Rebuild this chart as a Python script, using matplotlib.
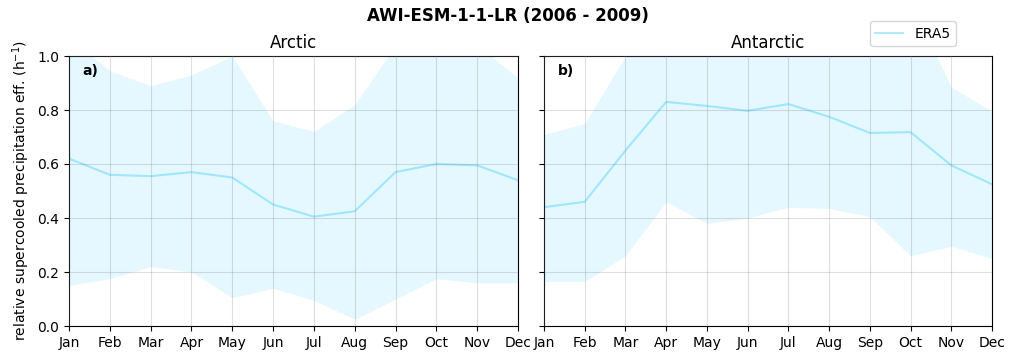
import matplotlib
matplotlib.use("Agg")
import matplotlib.pyplot as plt
import numpy as np

months = ["Jan", "Feb", "Mar", "Apr", "May", "Jun", "Jul", "Aug", "Sep", "Oct", "Nov", "Dec"]

arctic_mean = [0.62, 0.56, 0.555, 0.57, 0.55, 0.45, 0.405, 0.425, 0.57, 0.60, 0.595, 0.54]
arctic_upper = [1.07, 0.945, 0.89, 0.93, 1.0, 0.76, 0.72, 0.82, 1.04, 1.1, 1.04, 0.92]
arctic_lower = [0.15, 0.175, 0.22, 0.20, 0.105, 0.14, 0.095, 0.025, 0.10, 0.175, 0.16, 0.16]

antarctic_mean = [0.44, 0.46, 0.65, 0.83, 0.815, 0.797, 0.822, 0.775, 0.715, 0.718, 0.595, 0.525]
antarctic_upper = [0.71, 0.75, 1.0, 1.15, 1.15, 1.15, 1.15, 1.15, 1.15, 1.2, 0.885, 0.795]
antarctic_lower = [0.165, 0.165, 0.26, 0.46, 0.38, 0.40, 0.44, 0.435, 0.405, 0.26, 0.295, 0.25]

color = "deepskyblue"

fig = plt.figure(figsize=(10.15, 3.6), dpi=100)
ax1 = fig.add_axes([69/1015, 1-326/360, (518-69)/1015, (326-56)/360])
ax2 = fig.add_axes([544/1015, 1-326/360, (992-544)/1015, (326-56)/360], sharey=ax1)

x = np.arange(len(months))
for ax, mean, lo, hi, title, lab in [
    (ax1, arctic_mean, arctic_lower, arctic_upper, "Arctic", "a)"),
    (ax2, antarctic_mean, antarctic_lower, antarctic_upper, "Antarctic", "b)"),
]:
    ax.fill_between(x, lo, hi, color=color, alpha=0.1, linewidth=0)
    ax.plot(x, mean, color=color, alpha=0.3, linewidth=1.5, label="ERA5")
    ax.set_xlim(0, 11)
    ax.set_ylim(0, 1)
    ax.set_xticks(x)
    ax.set_xticklabels(months)
    ax.grid(True, color="gray", alpha=0.25, linewidth=0.8)
    ax.set_axisbelow(False)
    ax.set_title(title, fontsize=12)
    ax.text(0.03, 0.97, lab, transform=ax.transAxes, fontweight="bold",
            fontsize=10, va="top", ha="left")

ax1.set_ylabel("relative supercooled precipitation eff. (h$^{-1}$)")
plt.setp(ax2.get_yticklabels(), visible=False)

fig.suptitle("AWI-ESM-1-1-LR (2006 - 2009)", fontweight="bold", fontsize=12, y=0.98)
handles, labels = ax1.get_legend_handles_labels()
fig.legend(handles, labels, loc="upper right", bbox_to_anchor=(963/1015, 1-14/360))

fig.savefig("out.png", dpi=100)
